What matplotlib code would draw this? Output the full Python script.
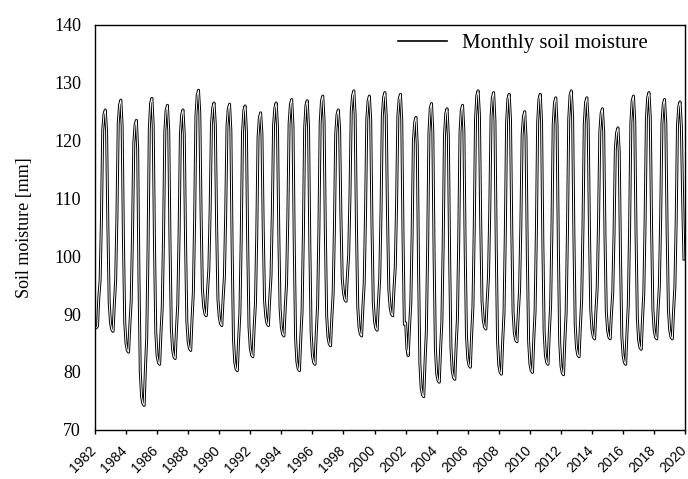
import numpy as np
import matplotlib
matplotlib.use('Agg')
import matplotlib.pyplot as plt
import matplotlib.transforms as mtransforms
from matplotlib.lines import Line2D

# monthly soil moisture [mm], Jan 1982 .. Dec 2019
start_year = 1982
soil_moisture = [
    87.7, 87.6, 87.9, 92.9, 95.8, 106.2, 121.8, 124.6, 125.3, 121.5, 105.0, 92.0,   # 1982
    88.5, 87.3, 87.0, 91.8, 95.8, 107.0, 123.0, 126.2, 127.0, 122.6, 103.0, 88.6,   # 1983
    84.9, 83.7, 83.4, 88.2, 92.2, 103.5, 119.5, 122.7, 123.5, 118.6, 96.4, 80.1,    # 1984
    75.7, 74.5, 74.2, 80.6, 85.9, 100.8, 122.0, 126.5, 127.3, 122.7, 102.0, 86.8,   # 1985
    82.8, 81.6, 81.3, 86.7, 91.2, 103.7, 121.6, 125.3, 126.1, 121.7, 102.0, 87.6,   # 1986
    83.8, 82.6, 82.3, 87.5, 91.8, 103.8, 121.0, 124.5, 125.3, 121.1, 102.4, 88.7,   # 1987
    85.2, 84.0, 83.7, 89.1, 93.6, 106.2, 124.2, 127.9, 128.7, 124.8, 107.3, 94.4,   # 1988
    91.2, 90.0, 89.7, 94.1, 97.8, 108.1, 122.8, 125.7, 126.5, 122.7, 105.3, 92.6,   # 1989
    89.5, 88.3, 88.0, 92.6, 96.4, 107.2, 122.5, 125.5, 126.3, 121.7, 101.0, 85.7,   # 1990
    81.7, 80.5, 80.2, 85.7, 90.3, 103.1, 121.4, 125.2, 126.0, 121.7, 102.1, 87.8,   # 1991
    84.1, 82.9, 82.6, 87.7, 91.9, 103.7, 120.6, 124.0, 124.8, 121.1, 104.6, 92.4,   # 1992
    89.5, 88.3, 88.0, 92.6, 96.5, 107.3, 122.7, 125.7, 126.5, 122.5, 104.3, 91.0,   # 1993
    87.7, 86.5, 86.2, 91.1, 95.2, 106.7, 123.0, 126.3, 127.1, 122.4, 101.3, 85.8,   # 1994
    81.7, 80.5, 80.2, 85.8, 90.5, 103.6, 122.2, 126.1, 126.9, 122.3, 101.8, 86.8,   # 1995
    82.8, 81.6, 81.3, 86.9, 91.5, 104.5, 123.1, 126.9, 127.7, 123.4, 103.9, 89.7,   # 1996
    86.0, 84.8, 84.5, 89.4, 93.5, 104.9, 121.2, 124.5, 125.3, 122.0, 107.1, 96.2,   # 1997
    93.7, 92.5, 92.2, 96.6, 100.2, 110.4, 125.0, 127.8, 128.6, 124.4, 105.3, 91.3,  # 1998
    87.7, 86.5, 86.2, 91.2, 95.3, 107.0, 123.6, 126.9, 127.7, 123.7, 105.4, 92.1,   # 1999
    88.7, 87.5, 87.2, 92.1, 96.2, 107.8, 124.2, 127.5, 128.3, 124.4, 107.1, 94.3,   # 2000
    91.2, 90.0, 89.7, 94.3, 98.1, 108.9, 124.2, 127.2, 128.0, 123.5, 103.1, 88.2,   # 2001
    88.5, 84.0, 82.8, 87.7, 91.9, 103.4, 119.9, 123.2, 124.0, 119.2, 97.4, 81.5,    # 2002
    77.2, 76.0, 75.7, 81.8, 86.9, 101.1, 121.3, 125.6, 126.4, 121.6, 99.9, 84.0,    # 2003
    79.7, 78.5, 78.2, 83.9, 88.6, 101.9, 120.8, 124.7, 125.5, 120.8, 99.8, 84.3,    # 2004
    80.2, 79.0, 78.7, 84.4, 89.1, 102.4, 121.4, 125.3, 126.1, 121.6, 101.2, 86.2,   # 2005
    82.3, 81.1, 80.8, 86.5, 91.3, 104.7, 123.8, 127.8, 128.6, 124.5, 105.9, 92.3,   # 2006
    88.9, 87.7, 87.4, 92.3, 96.4, 107.9, 124.2, 127.5, 128.3, 123.4, 101.5, 85.4,   # 2007
    81.1, 79.9, 79.6, 85.4, 90.2, 103.8, 123.2, 127.2, 128.0, 123.7, 104.5, 90.3,   # 2008
    86.7, 85.5, 85.2, 90.0, 94.0, 105.1, 121.0, 124.2, 125.0, 120.5, 100.2, 85.3,   # 2009
    81.4, 80.2, 79.9, 85.7, 90.5, 104.0, 123.2, 127.2, 128.0, 123.3, 102.3, 86.9,   # 2010
    82.8, 81.6, 81.3, 86.8, 91.4, 104.4, 122.8, 126.6, 127.4, 122.6, 101.1, 85.2,   # 2011
    81.0, 79.8, 79.5, 85.4, 90.3, 104.1, 123.7, 127.8, 128.6, 124.0, 103.3, 88.1,   # 2012
    84.1, 82.9, 82.6, 88.0, 92.5, 105.0, 122.9, 126.6, 127.4, 123.2, 104.5, 90.7,   # 2013
    87.2, 86.0, 85.7, 90.5, 94.5, 105.6, 121.5, 124.7, 125.5, 121.5, 103.6, 90.5,   # 2014
    87.2, 86.0, 85.7, 90.1, 93.7, 104.0, 118.6, 121.4, 122.2, 118.1, 99.7, 86.2,    # 2015
    82.8, 81.6, 81.3, 86.9, 91.5, 104.5, 123.1, 126.9, 127.7, 123.3, 103.6, 89.2,   # 2016
    85.4, 84.2, 83.9, 89.2, 93.7, 106.1, 123.9, 127.5, 128.3, 124.0, 104.9, 90.8,   # 2017
    87.2, 86.0, 85.7, 90.7, 94.8, 106.4, 123.0, 126.3, 127.1, 123.0, 104.3, 90.7,   # 2018
    87.2, 86.0, 85.7, 90.6, 94.7, 106.2, 122.6, 125.9, 126.7, 122.5, 110.0, 99.5,   # 2019
]
year_ticks = list(range(1982, 2021, 2))
y_ticks = [70, 80, 90, 100, 110, 120, 130, 140]

serif = ['Liberation Serif', 'DejaVu Serif']
sans = ['Liberation Sans Narrow', 'Liberation Sans', 'DejaVu Sans']

x = start_year + np.arange(len(soil_moisture)) / 12.0

fig = plt.figure(figsize=(6.88, 4.79), dpi=100)
ax = fig.add_axes([0.138, 0.103, 0.858, 0.845])

# outlined (hollow) line like the original
ax.plot(x, soil_moisture, color='black', lw=2.1)
ax.plot(x, soil_moisture, color='white', lw=0.7)

ax.set_xlim(1982, 2020)
ax.set_ylim(70, 140)

ax.set_xticks(year_ticks)
ax.set_xticklabels([str(y) for y in year_ticks], rotation=45, ha='right',
                   rotation_mode='anchor', family=sans, fontsize=10)
ax.set_yticks(y_ticks)
ax.set_yticklabels([str(v) for v in y_ticks], family=serif, fontsize=13)
ax.tick_params(axis='x', direction='out', length=3, width=1, pad=7)
ax.tick_params(axis='y', length=0, pad=10)

# nudge the rotated year labels to the left so 2020 stays inside
shift = mtransforms.ScaledTranslation(-6 / 100, 0, fig.dpi_scale_trans)
for lbl in ax.get_xticklabels():
    lbl.set_transform(lbl.get_transform() + shift)

for s in ax.spines.values():
    s.set_linewidth(1.0)

ax.set_ylabel('Soil moisture [mm]', family=serif, fontsize=13, labelpad=15)

handle = Line2D([], [], color='black', lw=1.2)
ax.legend([handle], ['Monthly soil moisture'], loc='upper right',
          bbox_to_anchor=(0.95, 1.0), frameon=False,
          prop={'family': serif, 'size': 15}, handlelength=2.35, handletextpad=0.7,
          borderaxespad=0.0, borderpad=0.4)

fig.savefig('out.png', dpi=100)
